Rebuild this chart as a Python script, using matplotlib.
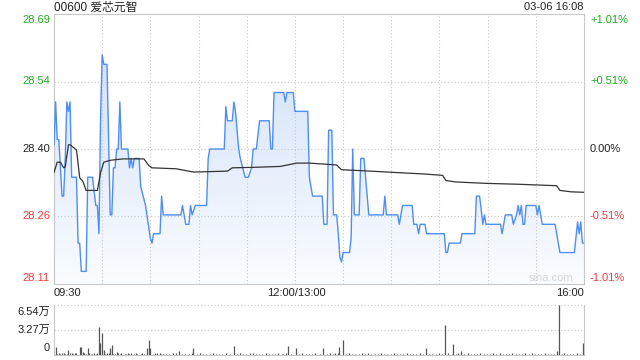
import matplotlib
matplotlib.use('Agg')
import matplotlib.pyplot as plt
import numpy as np
from matplotlib.colors import LinearSegmentedColormap
from matplotlib.patches import PathPatch

plt.rcParams['font.family'] = ['Liberation Sans', 'Noto Sans CJK SC', 'DejaVu Sans']

# ---------------- data ----------------
title = "00600 爱芯元智"
timestamp = "03-06 16:08"
prev_close = 28.40
pct_range = 1.01

x_tick_labels = ["09:30", "12:00/13:00", "16:00"]
price_tick_labels = ["28.69", "28.54", "28.40", "28.26", "28.11"]
pct_tick_labels = ["+1.01%", "+0.51%", "0.00%", "-0.51%", "-1.01%"]
vol_tick_labels = ["6.54万", "3.27万", "0"]
vol_axis_max = 65400

# trading minutes since 09:30 (lunch break removed, 150 = 12:00/13:00, 330 = 16:00)
price_min = [0, 1, 2, 3, 5, 6, 7, 8, 9, 10, 11, 14, 15, 16, 17, 20, 21, 24, 26, 27,
             28, 29, 30, 31, 33, 35, 36, 37, 38, 39, 40, 41, 42, 46, 47, 48, 49, 50, 53, 54,
             57, 60, 61, 62, 66, 67, 68, 79, 80, 81, 82, 84, 85, 86, 88, 95, 96, 97, 106, 107,
             108, 111, 112, 113, 115, 116, 119, 121, 123, 124, 126, 128, 134, 135, 136, 137, 143, 144, 145, 149,
             150, 158, 159, 161, 167, 168, 170, 171, 173, 174, 176, 177, 178, 179, 180, 184, 185, 186, 187, 190,
             191, 193, 194, 196, 205, 206, 207, 214, 215, 217, 223, 224, 226, 227, 228, 231, 232, 243, 244, 245,
             246, 253, 254, 262, 263, 265, 267, 268, 269, 278, 279, 281, 285, 286, 288, 289, 290, 291, 292, 293,
             294, 300, 301, 302, 304, 312, 313, 315, 324, 326, 327, 328, 329, 330]
price = [28.41, 28.50, 28.42, 28.42, 28.30, 28.30, 28.38, 28.50, 28.48, 28.50, 28.34, 28.34, 28.20, 28.20, 28.14, 28.14, 28.34, 28.34, 28.28, 28.28,
         28.22, 28.47, 28.60, 28.58, 28.58, 28.26, 28.26, 28.36, 28.36, 28.40, 28.40, 28.50, 28.40, 28.40, 28.36, 28.38, 28.36, 28.38, 28.38, 28.32,
         28.28, 28.21, 28.20, 28.22, 28.22, 28.30, 28.26, 28.26, 28.28, 28.26, 28.24, 28.24, 28.28, 28.26, 28.28, 28.28, 28.38, 28.40, 28.40, 28.49,
         28.46, 28.46, 28.50, 28.48, 28.40, 28.38, 28.34, 28.34, 28.36, 28.40, 28.40, 28.46, 28.46, 28.40, 28.40, 28.52, 28.52, 28.50, 28.52, 28.52,
         28.48, 28.48, 28.34, 28.30, 28.30, 28.24, 28.24, 28.44, 28.44, 28.26, 28.26, 28.22, 28.17, 28.16, 28.18, 28.18, 28.21, 28.40, 28.26, 28.26,
         28.38, 28.38, 28.34, 28.26, 28.26, 28.30, 28.26, 28.26, 28.24, 28.28, 28.28, 28.24, 28.24, 28.22, 28.24, 28.24, 28.22, 28.22, 28.18, 28.18,
         28.20, 28.20, 28.22, 28.22, 28.30, 28.30, 28.24, 28.26, 28.24, 28.24, 28.22, 28.26, 28.26, 28.24, 28.26, 28.28, 28.26, 28.28, 28.24, 28.24,
         28.28, 28.28, 28.26, 28.28, 28.24, 28.24, 28.22, 28.18, 28.18, 28.245, 28.22, 28.245, 28.20, 28.20]

avg_min = [0, 2, 4, 6, 7, 9, 10, 14, 16, 18, 20, 27, 29, 31, 35, 43, 56, 59, 61, 76,
           87, 108, 111, 124, 141, 151, 159, 168, 176, 179, 197, 213, 230, 242, 244, 250, 269, 290, 313, 315,
           322, 330]
avg_price = [28.350, 28.372, 28.372, 28.360, 28.362, 28.409, 28.409, 28.398, 28.339, 28.331, 28.312, 28.312, 28.350, 28.372, 28.376, 28.379, 28.379, 28.365, 28.360, 28.358,
             28.351, 28.353, 28.360, 28.361, 28.363, 28.370, 28.370, 28.368, 28.366, 28.356, 28.353, 28.350, 28.347, 28.344, 28.333, 28.330, 28.327, 28.325, 28.322, 28.312,
             28.309, 28.308]

vol_min = [1, 3, 5, 7, 9, 11, 13, 16, 17, 19, 21, 23, 25, 28, 29, 30, 31, 33, 35, 36,
           39, 42, 45, 48, 51, 54, 58, 59, 60, 63, 66, 70, 74, 78, 82, 87, 91, 95, 99, 103,
           107, 112, 116, 120, 124, 128, 132, 136, 140, 143, 146, 151, 155, 159, 163, 168, 172, 175, 178, 180,
           184, 188, 192, 196, 200, 204, 208, 212, 216, 220, 224, 228, 232, 236, 240, 244, 246, 249, 252, 254,
           258, 262, 266, 270, 274, 278, 282, 286, 290, 294, 298, 302, 306, 310, 314, 315, 318, 322, 326, 330]
vol = [10500, 2000, 2600, 1800, 6500, 2000, 3000, 10500, 10500, 2500, 9000, 1800, 2400, 36600, 15700, 28800, 6500, 2600, 9000, 13000,
       4000, 2200, 1600, 2600, 2000, 1500, 9000, 19600, 9000, 3000, 2200, 1800, 2400, 5200, 1600, 9000, 2000, 1800, 2500, 1500,
       2000, 11800, 2200, 1600, 2000, 1500, 2400, 1800, 2000, 1600, 11800, 9000, 2000, 1800, 2200, 9000, 2500, 2000, 10500, 19600,
       2600, 1800, 2200, 2000, 1600, 2400, 1800, 2000, 1500, 2200, 1800, 2000, 9000, 1800, 2200, 39200, 2600, 14400, 2400, 5200,
       2000, 1600, 2200, 1800, 2400, 2000, 1600, 2200, 1800, 2000, 2400, 1600, 2200, 1800, 5200, 65400, 2000, 1800, 2200, 15700]

small_vol_min = [2, 4, 6, 8, 10, 12, 14, 18, 20, 22,
                 24, 26, 27, 32, 34, 37, 38, 40, 41, 44,
                 46, 47, 50, 52, 55, 56, 62, 64, 67, 68,
                 72, 76, 80, 84, 86, 89, 93, 97, 101, 105,
                 110, 114, 118, 122, 126, 130, 134, 138, 142, 145,
                 148, 153, 157, 161, 166, 170, 174, 177, 182, 186,
                 190, 194, 198, 202, 206, 210, 214, 218, 222, 226,
                 230, 234, 238, 242, 248, 251, 256, 260, 264, 268,
                 272, 276, 280, 284, 288, 292, 296, 300, 304, 308,
                 312, 317, 320, 324, 328]
small_vol = [1200, 1800, 2600, 1500, 3200, 1300, 2000, 4000, 1600, 2400,
             1800, 1200, 3000, 1600, 2200, 1400, 1900, 2600, 1300, 1700,
             2100, 1500, 1200, 1800, 2400, 1400, 1600, 2000, 1300, 1800,
             1500, 2200, 1400, 1700, 2000, 1300, 1600, 1900, 1200, 1500,
             1800, 1400, 1600, 2100, 1300, 1700, 1500, 1200, 1800, 2400,
             1600, 1400, 1900, 1300, 1700, 1500, 1200, 2000, 1600, 1400,
             1800, 1300, 1500, 1700, 1200, 1600, 1400, 1900, 1300, 1500,
             1700, 1200, 1600, 1400, 1800, 1500, 1300, 1700, 1200, 1600,
             1400, 1800, 1300, 1500, 1700, 1200, 1600, 1400, 1900, 1300,
             1500, 1700, 1200, 1600, 1400]

# ---------------- figure ----------------
W, H = 640, 360
fig = plt.figure(figsize=(W / 100, H / 100), dpi=100)
fig.patch.set_facecolor('white')

lo = prev_close * (1 - pct_range / 100)
hi = prev_close * (1 + pct_range / 100)
tick_vals = [hi, (hi + prev_close) / 2, prev_close, (lo + prev_close) / 2, lo]

GREEN = '#22a822'
RED = '#f03c3c'
BLACK = '#222222'
GRID = '#c8c8c8'
SPINE = '#c8c8c8'
FS = 8

ax = fig.add_axes([54 / W, (H - 284) / H, 530 / W, 270 / H])
ax.set_facecolor('white')

# gradient fill under price line
poly = ax.fill_between(price_min, price, lo, color='none', linewidth=0)
path = poly.get_paths()[0]
patch = PathPatch(path, transform=ax.transData, facecolor='none', edgecolor='none')
ax.add_patch(patch)
cmap = LinearSegmentedColormap.from_list('g', ['#fafcff', '#cddef8'])
grad = np.linspace(0, 1, 256).reshape(-1, 1)
im = ax.imshow(grad, extent=[0, 330, lo, hi], origin='lower', aspect='auto',
               cmap=cmap, zorder=1, interpolation='bilinear')
im.set_clip_path(patch)

ax.plot(price_min, price, color='#4f8ef2', lw=1.0, zorder=3)
ax.plot(avg_min, avg_price, color='#333333', lw=0.9, zorder=4)

ax.set_xlim(0, 330)
ax.set_ylim(lo, hi)
ax.set_xticks([])
ax.set_yticks([])
for s in ax.spines.values():
    s.set_color(SPINE)
    s.set_linewidth(0.8)

dot = (0, (1, 2))
for v in tick_vals[1:-1]:
    ax.axhline(v, color=GRID, lw=0.8, ls=dot, zorder=2)
for m in range(30, 330, 30):
    ax.axvline(m, color=GRID, lw=0.8, ls=dot, zorder=2)

left_colors = [GREEN, GREEN, BLACK, RED, RED]
offsets = [-6, 0, 0, 0, 6]
for v, lab, pl, c, dy in zip(tick_vals, price_tick_labels, pct_tick_labels, left_colors, offsets):
    ax.annotate(lab, xy=(0, v), xycoords=('axes fraction', 'data'), xytext=(-4, dy),
                textcoords='offset pixels', ha='right', va='center', fontsize=FS, color=c)
    ax.annotate(pl, xy=(1, v), xycoords=('axes fraction', 'data'), xytext=(6, dy),
                textcoords='offset pixels', ha='left', va='center', fontsize=FS, color=c)

# x labels
ax.annotate(x_tick_labels[0], xy=(0, 0), xycoords='axes fraction', xytext=(0, -9),
            textcoords='offset pixels', ha='left', va='center', fontsize=FS, color=BLACK)
ax.annotate(x_tick_labels[1], xy=(150, 0), xycoords=('data', 'axes fraction'), xytext=(1, -9),
            textcoords='offset pixels', ha='center', va='center', fontsize=FS, color=BLACK)
ax.annotate(x_tick_labels[2], xy=(1, 0), xycoords='axes fraction', xytext=(0, -9),
            textcoords='offset pixels', ha='right', va='center', fontsize=FS, color=BLACK)

# watermark
ax.annotate("sina.com", xy=(1, 0), xycoords='axes fraction', xytext=(-11, 6),
            textcoords='offset pixels', ha='right', va='center', fontsize=8, color='#d6d6d6')

# title and timestamp
fig.text(54 / W, 1 - 7.5 / H, title, ha='left', va='center', fontsize=8.5, color=BLACK)
fig.text(584 / W, 1 - 7.5 / H, timestamp, ha='right', va='center', fontsize=8, color=BLACK)

# ---------------- volume ----------------
vax = fig.add_axes([54 / W, (H - 355) / H, 530 / W, 50 / H])
vax.set_facecolor('white')
vax.vlines(small_vol_min, 0, small_vol, color='#555555', lw=0.8, zorder=3)
vax.vlines(vol_min, 0, vol, color='#555555', lw=0.9, zorder=3)
vax.set_xlim(0, 330.6)
vax.set_ylim(0, vol_axis_max)
vax.set_xticks([])
vax.set_yticks([])
vax.spines['top'].set_visible(False)
for k in ['left', 'right', 'bottom']:
    vax.spines[k].set_color(SPINE)
    vax.spines[k].set_linewidth(0.8)
vax.axhline(vol_axis_max, color=GRID, lw=0.8, ls=dot, zorder=2)
vax.axhline(vol_axis_max / 2, color=GRID, lw=0.8, ls=dot, zorder=2)
vvals = [vol_axis_max, vol_axis_max / 2, 0]
voffs = [-7, 0, 7]
for v, lab, dy in zip(vvals, vol_tick_labels, voffs):
    vax.annotate(lab, xy=(0, v), xycoords=('axes fraction', 'data'), xytext=(-4, dy),
                 textcoords='offset pixels', ha='right', va='center', fontsize=FS, color=BLACK)

fig.savefig('out.png', dpi=100)
